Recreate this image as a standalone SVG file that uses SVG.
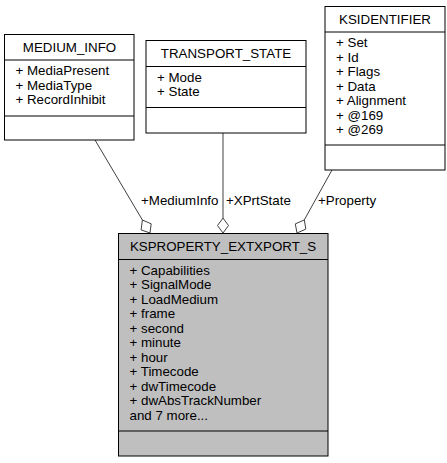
<svg xmlns="http://www.w3.org/2000/svg" width="447" height="463" viewBox="0 0 447 463">
<style>
text{font-family:"Liberation Sans",Arial,Helvetica,sans-serif;font-size:13.33px;fill:#000}
.t{text-anchor:middle}
.box{fill:#fff;stroke:#000;stroke-width:1}
.main{fill:#bfbfbf;stroke:#000;stroke-width:1}
.sep{stroke:#000;stroke-width:1}
.edge{fill:none;stroke:#404040;stroke-width:1}
.dia{fill:#fff;stroke:#404040;stroke-width:1}
</style>
<rect width="447" height="463" fill="#fff"/>
<g id="connectors">
<path class="edge" d="M95,140 L142.4,220"/>
<polygon class="dia" points="150,233 141.1,229.9 142.4,220 151.2,223.8"/>
<text x="141" y="205">+MediumInfo</text>
<path class="edge" d="M223,133 L223,218"/>
<polygon class="dia" points="223,233 217.5,225.5 223,218 228.5,225.5"/>
<text x="226" y="205">+XPrtState</text>
<path class="edge" d="M332,170 L304.3,219.9"/>
<polygon class="dia" points="297,233 295.3,223.9 304.3,219.9 305.8,229.1"/>
<text x="318" y="205">+Property</text>
</g>
<g id="MEDIUM_INFO">
<rect class="box" x="4.5" y="34.5" width="129.5" height="105.5"/>
<line class="sep" x1="4.5" y1="60" x2="134" y2="60"/>
<line class="sep" x1="4.5" y1="116" x2="134" y2="116"/>
<text class="t" x="69.5" y="51.5">MEDIUM_INFO</text>
<text x="15.5" y="75">+ MediaPresent</text>
<text x="15.5" y="89.5">+ MediaType</text>
<text x="15.5" y="104">+ RecordInhibit</text>
</g>
<g id="TRANSPORT_STATE">
<rect class="box" x="146" y="40.5" width="160" height="92.5"/>
<line class="sep" x1="146" y1="66.5" x2="306" y2="66.5"/>
<line class="sep" x1="146" y1="107.5" x2="306" y2="107.5"/>
<text class="t" x="226" y="57.5">TRANSPORT_STATE</text>
<text x="157" y="81.5">+ Mode</text>
<text x="157" y="96">+ State</text>
</g>
<g id="KSIDENTIFIER">
<rect class="box" x="325" y="6.5" width="120" height="163.5"/>
<line class="sep" x1="325" y1="32" x2="445" y2="32"/>
<line class="sep" x1="325" y1="145" x2="445" y2="145"/>
<text class="t" x="385" y="23.5">KSIDENTIFIER</text>
<text x="336" y="47">+ Set</text>
<text x="336" y="61.5">+ Id</text>
<text x="336" y="76">+ Flags</text>
<text x="336" y="90.5">+ Data</text>
<text x="336" y="105">+ Alignment</text>
<text x="336" y="119.5">+ @169</text>
<text x="336" y="134">+ @269</text>
</g>
<g id="KSPROPERTY_EXTXPORT_S">
<rect class="main" x="118.5" y="233.5" width="209.5" height="222.5"/>
<line class="sep" x1="118.5" y1="259.5" x2="328" y2="259.5"/>
<line class="sep" x1="118.5" y1="431" x2="328" y2="431"/>
<text class="t" x="223" y="251">KSPROPERTY_EXTXPORT_S</text>
<text x="129.5" y="274.5">+ Capabilities</text>
<text x="129.5" y="289">+ SignalMode</text>
<text x="129.5" y="303.5">+ LoadMedium</text>
<text x="129.5" y="318">+ frame</text>
<text x="129.5" y="332.5">+ second</text>
<text x="129.5" y="347">+ minute</text>
<text x="129.5" y="361.5">+ hour</text>
<text x="129.5" y="376">+ Timecode</text>
<text x="129.5" y="390.5">+ dwTimecode</text>
<text x="129.5" y="405">+ dwAbsTrackNumber</text>
<text x="129.5" y="419.5">and 7 more...</text>
</g>
</svg>
